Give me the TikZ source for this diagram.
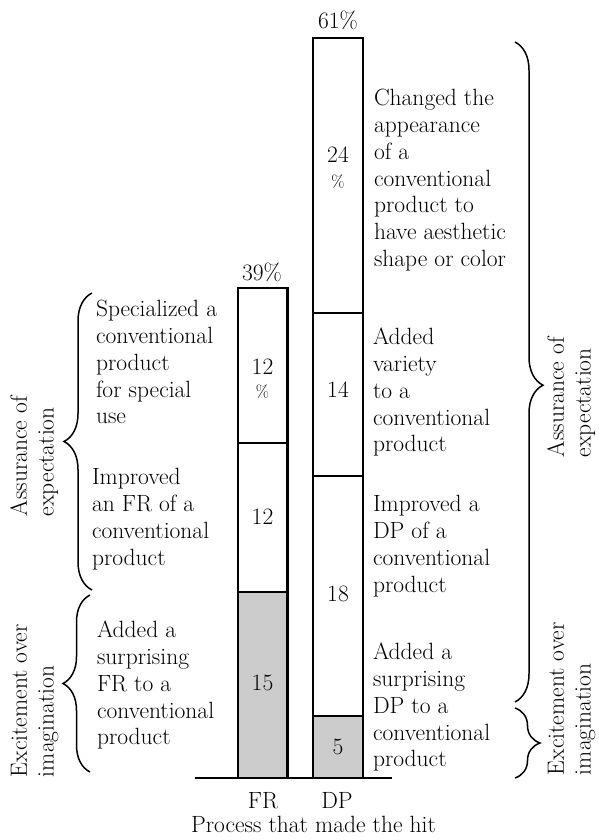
\documentclass[tikz,border=0pt]{standalone}
\usetikzlibrary{decorations.pathreplacing}
\definecolor{barfill}{RGB}{204,204,204}
\begin{document}
\begin{tikzpicture}[x=1pt,y=-1pt,
  every node/.style={inner sep=0pt, outer sep=0pt, font=\fontsize{23.5}{26.8}\selectfont},
  desc/.style={anchor=north west, align=left},
  side/.style={anchor=north west, align=left, rotate=90},
  num/.style={anchor=center},
  pct/.style={anchor=center, font=\fontsize{17}{20}\selectfont},
  total/.style={anchor=base},
  bar/.style={draw, line width=2.4pt},
  curly/.style={decorate, line width=1.5pt},
]
\useasboundingbox (0,0) rectangle (598,840);

% stacked bars: FR (left) and DP (right)
\fill[barfill] (238,592) rectangle (287.5,778);
\fill[barfill] (313,716) rectangle (363,778);
\draw[bar] (238,288) rectangle (287.5,778);
\draw[bar] (238,443) -- (287.5,443);
\draw[bar] (238,592) -- (287.5,592);
\draw[bar] (313,38) rectangle (363,778);
\draw[bar] (313,313) -- (363,313);
\draw[bar] (313,476) -- (363,476);
\draw[bar] (313,716) -- (363,716);
% axis line
\draw[line width=2.2pt] (195,778) -- (392,778);

% totals
\node[total] (frtot) at (262,280) {39\%};
\node[total] (dptot) at (338,29) {61\%};

% segment values
\node[num] (fra) at (262.5,367) {12};
\node[pct] (frap) at (262.5,392) {\%};
\node[num] (frb) at (262.5,517) {12};
\node[num] (frc) at (262.5,683) {15};
\node[num] (dpa) at (338,155) {24};
\node[pct] (dpap) at (338,182) {\%};
\node[num] (dpb) at (338,390) {14};
\node[num] (dpc) at (338,594) {18};
\node[num] (dpd) at (338,747) {5};

% descriptions
\node[desc] (l1) at (96,298) {\strut Specialized a\\conventional\\product\\for special\\use};
\node[desc] (l2) at (92,466) {\strut Improved\\an FR of a\\conventional\\product};
\node[desc] (l3) at (97,619) {\strut Added a\\surprising\\FR to a\\conventional\\product};
\node[desc] (r1) at (374,87) {\strut Changed the\\appearance\\of a\\conventional\\product to\\have aesthetic\\shape or color};
\node[desc] (r2) at (373,326) {\strut Added\\variety\\to a\\conventional\\product};
\node[desc] (r3) at (373,493) {\strut Improved a\\DP of a\\conventional\\product};
\node[desc] (r4) at (373,641) {\strut Added a\\surprising\\DP to a\\conventional\\product};

% braces
\draw[curly, decoration={brace, amplitude=28pt, aspect=0.5}] (92,590) -- (92,293);
\draw[curly, decoration={brace, amplitude=27pt, aspect=0.5}] (90,772) -- (90,595);
\draw[curly, decoration={brace, amplitude=28pt, aspect=0.52}] (515,42) -- (515,702);
\draw[curly, decoration={brace, amplitude=25pt, aspect=0.5}] (515,708) -- (515,778);

% group labels
\node[side] (ga) at (8,516) {\strut Assurance of\\expectation};
\node[side] (gb) at (8,777) {\strut Excitement over\\imagination};
\node[side] (gc) at (545,457) {\strut Assurance of\\expectation};
\node[side] (gd) at (545,775) {\strut Excitement over\\imagination};

% axis labels
\node[total] (fr) at (263,808) {FR};
\node[total] (dp) at (337,808) {DP};
\node[total] (axis) at (313.5,832) {Process that made the hit};
\end{tikzpicture}
\end{document}
